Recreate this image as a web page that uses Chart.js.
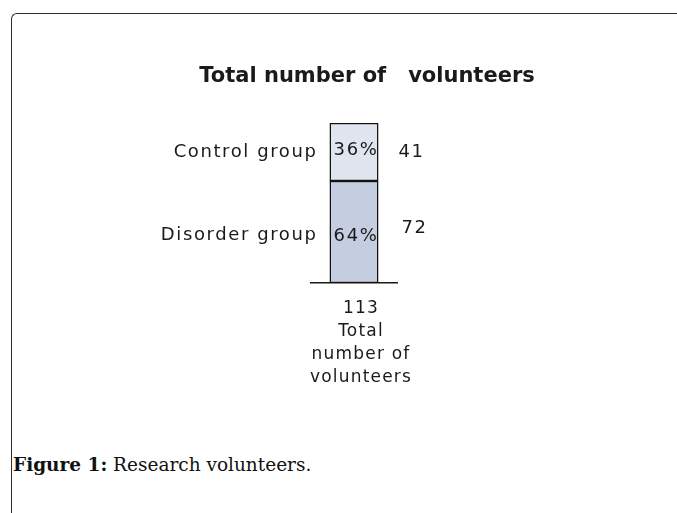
<!DOCTYPE html>
<html>
<head>
<meta charset="utf-8">
<script src="https://cdn.jsdelivr.net/npm/chart.js@4.4.0/dist/chart.umd.min.js"></script>
<style>
body{margin:0;background:#fff;width:677px;height:513px;overflow:hidden;position:relative;}
#frame{position:absolute;left:11px;top:13px;width:700px;height:600px;border-top:1.5px solid #2e2e2e;border-left:1.5px solid #2e2e2e;border-top-left-radius:6px;}
#wrap{position:absolute;left:0;top:0;width:677px;height:430px;}
#caption{position:absolute;left:13px;top:454px;font-family:"DejaVu Serif",serif;font-size:18.5px;color:#111;}
#caption b{font-weight:bold;}
</style>
</head>
<body>
<div id="frame"></div>
<div id="wrap"><canvas id="chart"></canvas></div>
<div id="caption"><b>Figure 1:</b> Research volunteers.</div>
<script>
// values
const categories = ['Total number of volunteers'];
const groupNames = ['Disorder group', 'Control group'];
const groupCounts = [72, 41];
const groupPercents = ['64%', '36%'];
const groupColors = ['#c5cee1', '#e0e5ef'];
const chartTitle = 'Total number of   volunteers';

const total = groupCounts.reduce((a, b) => a + b, 0);
const axisLines = [String(total), 'Total', 'number of', 'volunteers'];

const labelFont = '18px "DejaVu Sans"';

// spaced-out lettering like the original, for the tick labels too
const spacing = {
    id: 'spacing',
    beforeDraw(chart) { chart.ctx.letterSpacing = '1.2px'; },
    afterDraw(chart) { chart.ctx.letterSpacing = '0px'; }
};

const groupLabels = {
    id: 'groupLabels',
    afterDatasetsDraw(chart) {
        const ctx = chart.ctx;
        ctx.save();
        ctx.fillStyle = '#1a1a1a';
        ctx.textBaseline = 'middle';
        // title
        ctx.letterSpacing = '0px';
        ctx.font = 'bold 21px "DejaVu Sans"';
        ctx.textAlign = 'center';
        ctx.fillText(chartTitle, 367, 77);
        ctx.font = labelFont;
        ctx.letterSpacing = '1.6px';
        chart.data.datasets.forEach((ds, i) => {
            const bar = chart.getDatasetMeta(i).data[0];
            const cy = (bar.y + bar.base) / 2;
            const half = bar.width / 2;
            const dy = i === 0 ? 3 : 0;
            ctx.textAlign = 'right';
            ctx.fillText(ds.label, bar.x - half - 12, cy + dy);
            ctx.textAlign = 'center';
            ctx.fillText(groupPercents[i], bar.x + 2, cy + (i === 0 ? 4 : -2));
            ctx.textAlign = 'left';
            ctx.fillText(String(ds.data[0]), bar.x + half + 23 - i * 3, cy - (i === 0 ? 4 : 0));
        });
        ctx.restore();
    }
};

new Chart(document.getElementById('chart'), {
    type: 'bar',
    data: {
        labels: categories,
        datasets: groupNames.map((name, i) => ({
            label: name,
            data: [groupCounts[i]],
            backgroundColor: groupColors[i],
            borderColor: '#111',
            borderWidth: 1.5,
            borderSkipped: false,
            barPercentage: 0.57,
            categoryPercentage: 1
        }))
    },
    options: {
        responsive: true,
        maintainAspectRatio: false,
        animation: false,
        layout: {padding: {left: 311, right: 280, top: 123, bottom: 20}},
        plugins: {legend: {display: false}, tooltip: {enabled: false}},
        scales: {
            x: {
                stacked: true,
                grid: {display: false},
                border: {display: true, color: '#1a1a1a', width: 1.5},
                ticks: {
                    callback: () => axisLines,
                    color: '#1a1a1a',
                    font: {family: 'DejaVu Sans', size: 17, lineHeight: 1.35},
                    padding: 6,
                    labelOffset: 7,
                    maxRotation: 0,
                    autoSkip: false
                },
                afterFit: s => { s.height = 127; }
            },
            y: {stacked: true, display: false, min: 0, max: total}
        }
    },
    plugins: [spacing, groupLabels]
});
</script>
</body>
</html>
